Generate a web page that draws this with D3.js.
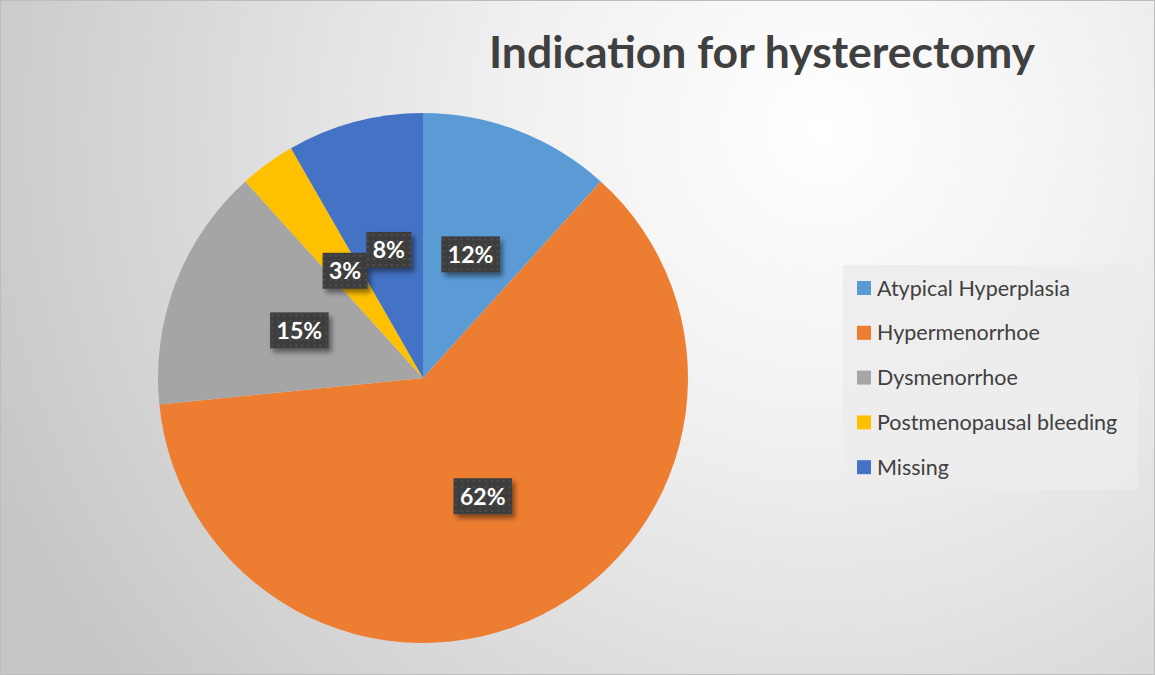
<!DOCTYPE html>
<html>
<head>
<meta charset="utf-8">
<script src="https://cdn.jsdelivr.net/npm/d3@7"></script>
<style>
  body { margin: 0; background: #fff; }
  svg { display: block; font-family: Lato, "Open Sans", sans-serif; }
</style>
</head>
<body>
<svg width="1155" height="675"></svg>
<script>
// Chart data
var categories = ["Atypical Hyperplasia", "Hypermenorrhoe", "Dysmenorrhoe", "Postmenopausal bleeding", "Missing"];
var values = [11.7, 61.7, 14.9, 3.4, 8.3];
var colors = ["#5B9BD5", "#ED7D31", "#A5A5A5", "#FFC000", "#4472C4"];
var title = "Indication for hysterectomy";

var svg = d3.select("svg"),
    width = +svg.attr("width"),
    height = +svg.attr("height"),
    cx = 423, cy = 378, radius = 265;

var data = categories.map(function(c, i) { return {name: c, value: values[i]}; });
var color = d3.scaleOrdinal().domain(categories).range(colors);
var total = d3.sum(values);
var pct = d3.format(".0%");

// Defs: background gradient, label texture, shadow
var defs = svg.append("defs");
var bg = defs.append("radialGradient")
  .attr("id", "bg")
  .attr("gradientUnits", "userSpaceOnUse")
  .attr("cx", 820).attr("cy", 130).attr("r", 900);
bg.append("stop").attr("offset", "0%").attr("stop-color", "#ffffff");
bg.append("stop").attr("offset", "35%").attr("stop-color", "#f0f0f0");
bg.append("stop").attr("offset", "100%").attr("stop-color", "#c6c6c6");

var pat = defs.append("pattern")
  .attr("id", "dots")
  .attr("patternUnits", "userSpaceOnUse")
  .attr("width", 6).attr("height", 6);
pat.append("rect").attr("width", 6).attr("height", 6).attr("fill", "#3d3d3d");
pat.append("rect").attr("x", 2).attr("y", 2).attr("width", 2).attr("height", 2).attr("fill", "#4f4f4f");

var shadow = defs.append("filter").attr("id", "shadow")
  .attr("x", "-30%").attr("y", "-30%").attr("width", "160%").attr("height", "160%");
shadow.append("feDropShadow")
  .attr("dx", 3).attr("dy", 4).attr("stdDeviation", 2.5)
  .attr("flood-color", "#000").attr("flood-opacity", 0.45);

// Background + border
svg.append("rect")
  .attr("x", 0.5).attr("y", 0.5)
  .attr("width", width - 1).attr("height", height - 1)
  .attr("fill", "url(#bg)")
  .attr("stroke", "#bdbdbd");

// Title
svg.append("text")
  .attr("x", 762)
  .attr("y", 68)
  .attr("text-anchor", "middle")
  .attr("font-size", 44.5)
  .attr("font-weight", "bold")
  .attr("fill", "#404040")
  .text(title);

// Pie
var pie = d3.pie().sort(null).value(function(d) { return d.value; });
var arc = d3.arc().innerRadius(0).outerRadius(radius);
var arcs = pie(data);

var g = svg.append("g").attr("transform", "translate(" + cx + "," + cy + ")");
g.selectAll(".slice")
  .data(arcs)
  .enter()
  .append("path")
  .attr("class", "slice")
  .attr("d", arc)
  .attr("fill", function(d) { return color(d.data.name); });

// Data labels
var labels = g.selectAll(".label")
  .data(arcs)
  .enter()
  .append("g")
  .attr("class", "label")
  .attr("transform", function(d) { return "translate(" + arc.centroid(d) + ")"; });

labels.each(function(d) {
  var lg = d3.select(this);
  var txt = pct(d.data.value / total);
  var w = txt.length * 13.5 + 18, h = 36;
  lg.append("rect")
    .attr("x", -w / 2).attr("y", -h / 2)
    .attr("width", w).attr("height", h)
    .attr("fill", "url(#dots)")
    .attr("filter", "url(#shadow)");
  lg.append("text")
    .attr("text-anchor", "middle")
    .attr("dy", "0.36em")
    .attr("font-size", 23)
    .attr("font-weight", "bold")
    .attr("fill", "#fff")
    .text(txt);
});

// Legend
var legend = svg.append("g").attr("transform", "translate(843,265)");
legend.append("rect")
  .attr("width", 295).attr("height", 225)
  .attr("fill", "#ececec").attr("fill-opacity", 0.85);

var item = legend.selectAll(".item")
  .data(categories)
  .enter()
  .append("g")
  .attr("class", "item")
  .attr("transform", function(d, i) { return "translate(14," + (23 + i * 44.8) + ")"; });
item.append("rect")
  .attr("x", 0).attr("y", -7)
  .attr("width", 14).attr("height", 14)
  .attr("fill", color);
item.append("text")
  .attr("x", 20)
  .attr("dy", "0.35em")
  .attr("font-size", 21.5)
  .attr("fill", "#404040")
  .text(function(d) { return d; });
</script>
</body>
</html>
